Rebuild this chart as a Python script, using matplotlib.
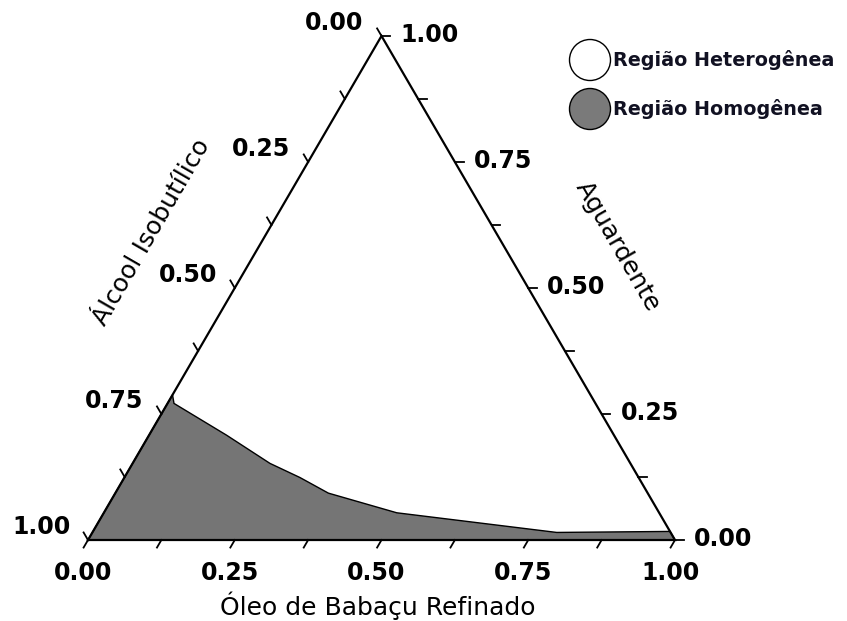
import numpy as np
import matplotlib.pyplot as plt
from matplotlib.patches import Circle, Polygon

# Boundary of the homogeneous region (mass fractions)
oleo = [0.0, 0.011, 0.132, 0.234, 0.299, 0.363, 0.499, 0.791, 0.983, 1.0]
aguardente = [0.288, 0.271, 0.208, 0.152, 0.124, 0.093, 0.054, 0.015, 0.017, 0.0]

tick_vals = [0.0, 0.25, 0.50, 0.75, 1.0]
tick_labels = ['0.00', '0.25', '0.50', '0.75', '1.00']
minor_vals = np.arange(0, 1.0001, 0.125)

H = np.sqrt(3) / 2


def to_xy(o, a):
    # ternary (oleo, aguardente) -> cartesian
    o = np.asarray(o, dtype=float)
    a = np.asarray(a, dtype=float)
    return o + 0.5 * a, a * H


fig = plt.figure(figsize=(8.47, 6.21), dpi=100)
ax = fig.add_axes([0, 0, 1, 1])
ax.set_xlim(-88 / 587, 759 / 587)
ax.set_ylim(-81 / 582, 540 / 582)
ax.axis('off')

PX = 72 / 100  # pixels -> points

# homogeneous region
bx, by = to_xy(oleo + [0.0], aguardente + [0.0])
ax.add_patch(Polygon(np.column_stack([bx, by]), closed=True,
                     facecolor='#757575', edgecolor='black', lw=1.0, zorder=2))

# triangle frame
tx, ty = to_xy([0, 1, 0, 0], [0, 0, 1, 0])
ax.plot(tx, ty, color='black', lw=1.6, zorder=3, solid_joinstyle='miter')

tl = 0.015
for v in minor_vals:
    # bottom axis (oleo), ticks parallel to left edge
    x0, y0 = to_xy(v, 0)
    ax.plot([x0, x0 - 0.5 * tl], [y0, y0 - H * tl], color='black', lw=1.3)
    # left axis (alcool), ticks parallel to right edge
    x0, y0 = to_xy(0, 1 - v)
    ax.plot([x0, x0 - 0.5 * tl], [y0, y0 + H * tl], color='black', lw=1.3)
    # right axis (aguardente), horizontal ticks
    x0, y0 = to_xy(1 - v, v)
    ax.plot([x0, x0 + tl], [y0, y0], color='black', lw=1.3)

fs = 17
for v, lab in zip(tick_vals, tick_labels):
    x0, y0 = to_xy(v, 0)
    ax.annotate(lab, (x0, y0), xytext=(-5 * PX, -33 * PX), textcoords='offset points',
                ha='center', va='center', fontsize=fs, fontweight='bold')
    x0, y0 = to_xy(0, 1 - v)
    ax.annotate(lab, (x0, y0), xytext=(-47 * PX, 13 * PX), textcoords='offset points',
                ha='center', va='center', fontsize=fs, fontweight='bold')
    x0, y0 = to_xy(1 - v, v)
    ax.annotate(lab, (x0, y0), xytext=(48 * PX, 1 * PX), textcoords='offset points',
                ha='center', va='center', fontsize=fs, fontweight='bold')

# axis titles
fig.text(378 / 847, 1 - 606 / 621, 'Óleo de Babaçu Refinado', ha='center', va='center', fontsize=18)
fig.text(152 / 847, 1 - 232 / 621, 'Álcool Isobutílico', ha='center', va='center',
         fontsize=18, rotation=60)
fig.text(618 / 847, 1 - 246 / 621, 'Aguardente', ha='center', va='center',
         fontsize=18, rotation=-60)

# legend
for cy, fc, lab in [(60, 'white', 'Região Heterogênea'), (109, '#7a7a7a', 'Região Homogênea')]:
    fig.patches.append(Circle((590, 621 - cy), 20.5, transform=None,
                              facecolor=fc, edgecolor='black', lw=1.0))
    fig.text(613 / 847, 1 - cy / 621, lab, ha='left', va='center', fontsize=13.8,
             fontweight='bold', color='#111122')

fig.savefig('out.png', dpi=100)
